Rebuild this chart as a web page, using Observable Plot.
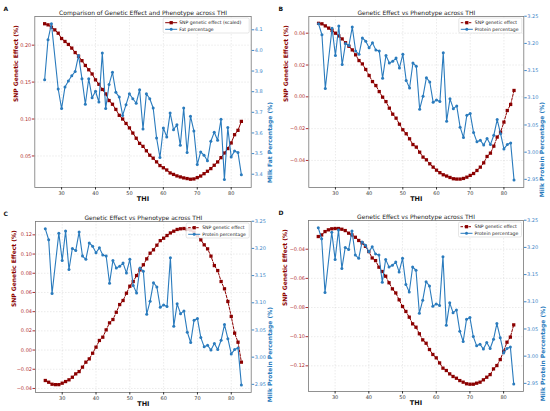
<!DOCTYPE html>
<html><head><meta charset="utf-8">
<script src="https://cdn.jsdelivr.net/npm/d3@7"></script>
<script src="https://cdn.jsdelivr.net/npm/@observablehq/plot@0.6"></script>
<style>
body{margin:0;background:#fff;}
#grid{display:grid;grid-template-columns:275px 275px;width:550px;}
#grid svg{display:block}
</style></head><body><div id="grid"></div>
<script>
// THI categories
const thi = [25,26,27,28,29,30,31,32,33,34,35,36,37,38,39,40,41,42,43,44,45,46,47,48,49,50,51,52,53,54,55,56,57,58,59,60,61,62,63,64,65,66,67,68,69,70,71,72,73,74,75,76,77,78,79,80,81,82,83];
const thiPheno = [25,26,27,29,30,31,32,33,34,35,36,37,38,39,40,41,42,43,44,45,46,47,48,49,50,51,52,53,54,55,56,57,58,59,60,61,62,63,64,65,66,67,68,69,70,71,72,73,74,75,76,77,78,79,80,81,82,83];

// SNP genetic effects
const snpA = [0.229,0.2275,0.2243,0.2207,0.2162,0.209,0.205,0.201,0.196,0.190,0.185,0.179,0.1725,0.1667,0.161,0.153,0.147,0.140,0.134,0.125,0.120,0.113,0.105,0.100,0.094,0.088,0.081,0.074,0.067,0.063,0.057,0.051,0.047,0.042,0.037,0.034,0.031,0.027,0.025,0.023,0.0216,0.0203,0.0194,0.0185,0.0189,0.0207,0.0228,0.026,0.0293,0.0329,0.0374,0.0419,0.0477,0.054,0.060,0.0676,0.0788,0.0847,0.0968];
const snpB = [0.0462,0.0459,0.0446,0.0432,0.0417,0.0400,0.0383,0.0364,0.0340,0.0318,0.0295,0.0264,0.0228,0.0207,0.0172,0.0134,0.0096,0.0071,0.0033,-0.0002,-0.0030,-0.0071,-0.0109,-0.0134,-0.0172,-0.0207,-0.0232,-0.0264,-0.0300,-0.0316,-0.0348,-0.0379,-0.0396,-0.0421,-0.0442,-0.0461,-0.0477,-0.0490,-0.0498,-0.0507,-0.0515,-0.0517,-0.0517,-0.0513,-0.0505,-0.0494,-0.0482,-0.0463,-0.0442,-0.0415,-0.0375,-0.0354,-0.0310,-0.0253,-0.0222,-0.0159,-0.0086,-0.0048,0.0040];
const snpC = [-0.0317,-0.0335,-0.0356,-0.036,-0.036,-0.0345,-0.0328,-0.031,-0.0283,-0.0248,-0.0224,-0.0178,-0.0126,-0.0092,-0.0033,0.003,0.010,0.0134,0.021,0.0283,0.0318,0.0394,0.0474,0.0516,0.0592,0.0665,0.0714,0.0776,0.0835,0.0888,0.095,0.1009,0.1044,0.1092,0.114,0.1165,0.1193,0.122,0.1238,0.1256,0.1263,0.1266,0.1256,0.125,0.1228,0.1193,0.1148,0.1096,0.1054,0.0978,0.088,0.0828,0.0714,0.0638,0.0506,0.035,0.0176,0.0082,-0.0126];
const snpD = [-0.0313,-0.0302,-0.0279,-0.0267,-0.026,-0.0258,-0.0258,-0.0263,-0.0272,-0.029,-0.0302,-0.0318,-0.034,-0.0357,-0.038,-0.0416,-0.046,-0.0478,-0.0523,-0.0553,-0.0585,-0.063,-0.0672,-0.070,-0.0747,-0.0793,-0.0827,-0.0866,-0.0912,-0.0935,-0.098,-0.1022,-0.1045,-0.1088,-0.1122,-0.1145,-0.118,-0.1216,-0.1232,-0.1255,-0.1273,-0.1285,-0.1301,-0.1312,-0.1323,-0.1326,-0.1326,-0.1319,-0.1312,-0.1296,-0.1278,-0.126,-0.1221,-0.1198,-0.1157,-0.110,-0.1038,-0.1003,-0.0919];

// Phenotypes
const fatPct = [3.858,4.052,4.129,3.813,3.718,3.823,3.852,3.877,3.898,3.976,3.863,3.739,3.863,3.771,3.802,3.750,3.987,3.718,3.835,3.894,3.797,3.774,3.685,3.737,3.790,3.766,3.744,3.810,3.619,3.790,3.766,3.721,3.576,3.481,3.624,3.581,3.697,3.616,3.640,3.540,3.721,3.505,3.681,3.610,3.447,3.508,3.492,3.465,3.560,3.603,3.565,3.666,3.374,3.626,3.484,3.513,3.505,3.398];
const proteinPct = [3.236,3.216,3.117,3.228,3.178,3.232,3.161,3.200,3.196,3.230,3.186,3.180,3.210,3.204,3.192,3.201,3.188,3.186,3.136,3.178,3.164,3.167,3.173,3.155,3.180,3.132,3.118,3.164,3.158,3.079,3.103,3.137,3.129,3.092,3.096,3.093,3.183,3.057,3.098,3.080,3.085,3.046,3.027,3.068,3.071,3.036,3.019,3.022,3.013,3.025,3.014,3.031,3.060,3.034,3.006,3.014,3.017,2.949];

// Tick labels
const thiTicks = [30,40,50,60,70,80];
const leftTicksA = [0.05,0.10,0.15,0.20];
const leftTicksB = [-0.04,-0.02,0.00,0.02,0.04];
const leftTicksC = [-0.04,-0.02,0.00,0.02,0.04,0.06,0.08,0.10,0.12];
const leftTicksD = [-0.12,-0.10,-0.08,-0.06,-0.04];
const fatTicks = [3.4,3.5,3.6,3.7,3.8,3.9,4.0,4.1];
const proteinTicks = [2.95,3.00,3.05,3.10,3.15,3.20,3.25];

const RED = "#8b0000", BLUE = "#2a7bbd";
const W = 275, H = 205;

function panel(cfg){
  const m = d3.scaleLinear().domain(cfg.rightDomain).range(cfg.leftDomain);
  const snpData = thi.map((t,i)=>({t, v: cfg.snp[i]}));
  const phData = thiPheno.map((t,i)=>({t, v: m(cfg.pheno[i])}));
  const f2 = d3.format(".2f");
  const mb = H - cfg.mt - 171;
  const svg = Plot.plot({
    width: W, height: H,
    marginLeft: cfg.ml, marginRight: cfg.mr, marginTop: cfg.mt, marginBottom: mb,
    style: {fontFamily: "DejaVu Sans, sans-serif", fontSize: "5px", background: "#fff", overflow: "visible"},
    x: {domain: [22.1, 85.9]},
    y: {domain: cfg.leftDomain},
    marks: [
      Plot.gridX(thiTicks, {stroke: "#bbb", strokeOpacity: 0.6, strokeDasharray: "1.5,1.5", strokeWidth: 0.5}),
      Plot.gridY(cfg.leftTicks, {stroke: "#bbb", strokeOpacity: 0.6, strokeDasharray: "1.5,1.5", strokeWidth: 0.5}),
      Plot.line(snpData, {x: "t", y: "v", stroke: RED, strokeWidth: 1, strokeDasharray: cfg.dashed ? "2.5,1.5" : null}),
      Plot.dot(snpData, {x: "t", y: "v", symbol: "square", r: 1.85, fill: RED}),
      Plot.line(phData, {x: "t", y: "v", stroke: BLUE, strokeWidth: 1.1}),
      Plot.dot(phData, {x: "t", y: "v", r: 1.5, fill: BLUE}),
      Plot.frame({stroke: "#777", strokeWidth: 0.8}),
      Plot.axisX(thiTicks, {tickSize: 2.5, tickPadding: 1, label: null, color: "#333"}),
      Plot.axisY(cfg.leftTicks, {anchor: "left", tickFormat: f2, tickSize: 2.5, tickPadding: 1, label: null, color: "#b03030"}),
      Plot.axisY(cfg.rightTicks.map(m), {anchor: "right", tickFormat: d => cfg.rfmt(m.invert(d)), tickSize: 2.5, tickPadding: 1, label: null, color: "#3f88c8"}),
      Plot.text([cfg.title], {text: d => d, frameAnchor: "top", dy: -6, fontSize: 6, fill: "#222"}),
      Plot.text([cfg.letter], {text: d => d, frameAnchor: "top-left", dx: -cfg.ml + 3, dy: -10, textAnchor: "start", fontWeight: "bold", fontSize: 6, fill: "#111"}),
      Plot.text([cfg.leftLabel], {text: d => d, frameAnchor: "left", dx: cfg.ldx, rotate: -90, fontWeight: "bold", fill: RED, fontSize: 6}),
      Plot.text([cfg.rightLabel], {text: d => d, frameAnchor: "right", dx: cfg.rdx, rotate: -90, fontWeight: "bold", fill: BLUE, fontSize: 6}),
      Plot.text(["THI"], {text: d => d, frameAnchor: "bottom", dy: 13, fontWeight: "bold", fontSize: 6.5, fill: "#111"})
    ]
  });
  // legend
  const g = d3.select(svg).append("g").attr("font-family", "DejaVu Sans, sans-serif").attr("font-size", 4.6).attr("text-anchor", "start");
  const fr = W - cfg.mr;
  const x0 = fr - 1.5 - cfg.lw, y0 = cfg.mt + 2;
  g.append("rect").attr("x", x0).attr("y", y0).attr("width", cfg.lw).attr("height", 15).attr("rx", 1.5)
    .attr("fill", "white").attr("fill-opacity", 0.85).attr("stroke", "#ccc").attr("stroke-width", 0.5);
  const rows = [
    {y: y0 + 4.7, color: RED, dash: cfg.dashed ? "2.5,1.5" : null, sym: d3.symbolSquare, size: Math.PI*1.85*1.85, label: cfg.leg1},
    {y: y0 + 11.3, color: BLUE, dash: null, sym: d3.symbolCircle, size: Math.PI*1.5*1.5, label: cfg.leg2}
  ];
  rows.forEach(r => {
    g.append("line").attr("x1", x0 + 2).attr("x2", x0 + 14).attr("y1", r.y).attr("y2", r.y)
      .attr("stroke", r.color).attr("stroke-width", 1).attr("stroke-dasharray", r.dash);
    g.append("path").attr("d", d3.symbol(r.sym, r.size)()).attr("transform", `translate(${x0 + 8},${r.y})`).attr("fill", r.color);
    g.append("text").attr("x", x0 + 16).attr("y", r.y).attr("dy", "0.35em").attr("text-anchor", "start").attr("fill", "#222").text(r.label);
  });
  document.getElementById("grid").appendChild(svg);
}

panel({letter: "A", title: "Comparison of Genetic Effect and Phenotype across THI",
  snp: snpA, pheno: fatPct, leftDomain: [0.0073, 0.2388], rightDomain: [3.3357, 4.1644],
  leftTicks: leftTicksA, rightTicks: fatTicks, rfmt: d3.format(".1f"),
  leftLabel: "SNP Genetic Effect (%)", rightLabel: "Milk Fat Percentage (%)",
  leg1: "SNP genetic effect (scaled)", leg2: "Fat percentage", dashed: false,
  ml: 34.3, mr: 24.3, mt: 16, ldx: -18.6, rdx: 18.6, lw: 86});

panel({letter: "B", title: "Genetic Effect vs Phenotype across THI",
  snp: snpB, pheno: proteinPct, leftDomain: [-0.0570, 0.0505], rightDomain: [2.935, 3.2495],
  leftTicks: leftTicksB, rightTicks: proteinTicks, rfmt: d3.format(".2f"),
  leftLabel: "SNP Genetic Effect (%)", rightLabel: "Milk Protein Percentage (%)",
  leg1: "SNP genetic effect", leg2: "Protein percentage", dashed: true,
  ml: 33.3, mr: 26.7, mt: 16, ldx: -22.3, rdx: 18.4, lw: 63});

panel({letter: "C", title: "Genetic Effect vs Phenotype across THI",
  snp: snpC, pheno: proteinPct, leftDomain: [-0.0442, 0.1339], rightDomain: [2.935, 3.2495],
  leftTicks: leftTicksC, rightTicks: proteinTicks, rfmt: d3.format(".2f"),
  leftLabel: "SNP Genetic Effect (%)", rightLabel: "Milk Protein Percentage (%)",
  leg1: "SNP genetic effect", leg2: "Protein percentage", dashed: true,
  ml: 35, mr: 24.3, mt: 16, ldx: -21.7, rdx: 18.6, lw: 63});

panel({letter: "D", title: "Genetic Effect vs Phenotype across THI",
  snp: snpD, pheno: proteinPct, leftDomain: [-0.1376, -0.0203], rightDomain: [2.935, 3.2495],
  leftTicks: leftTicksD, rightTicks: proteinTicks, rfmt: d3.format(".2f"),
  leftLabel: "SNP Genetic Effect (%)", rightLabel: "Milk Protein Percentage (%)",
  leg1: "SNP genetic effect", leg2: "Protein percentage", dashed: true,
  ml: 33, mr: 27, mt: 15, ldx: -23, rdx: 19.4, lw: 63});
</script></body></html>
